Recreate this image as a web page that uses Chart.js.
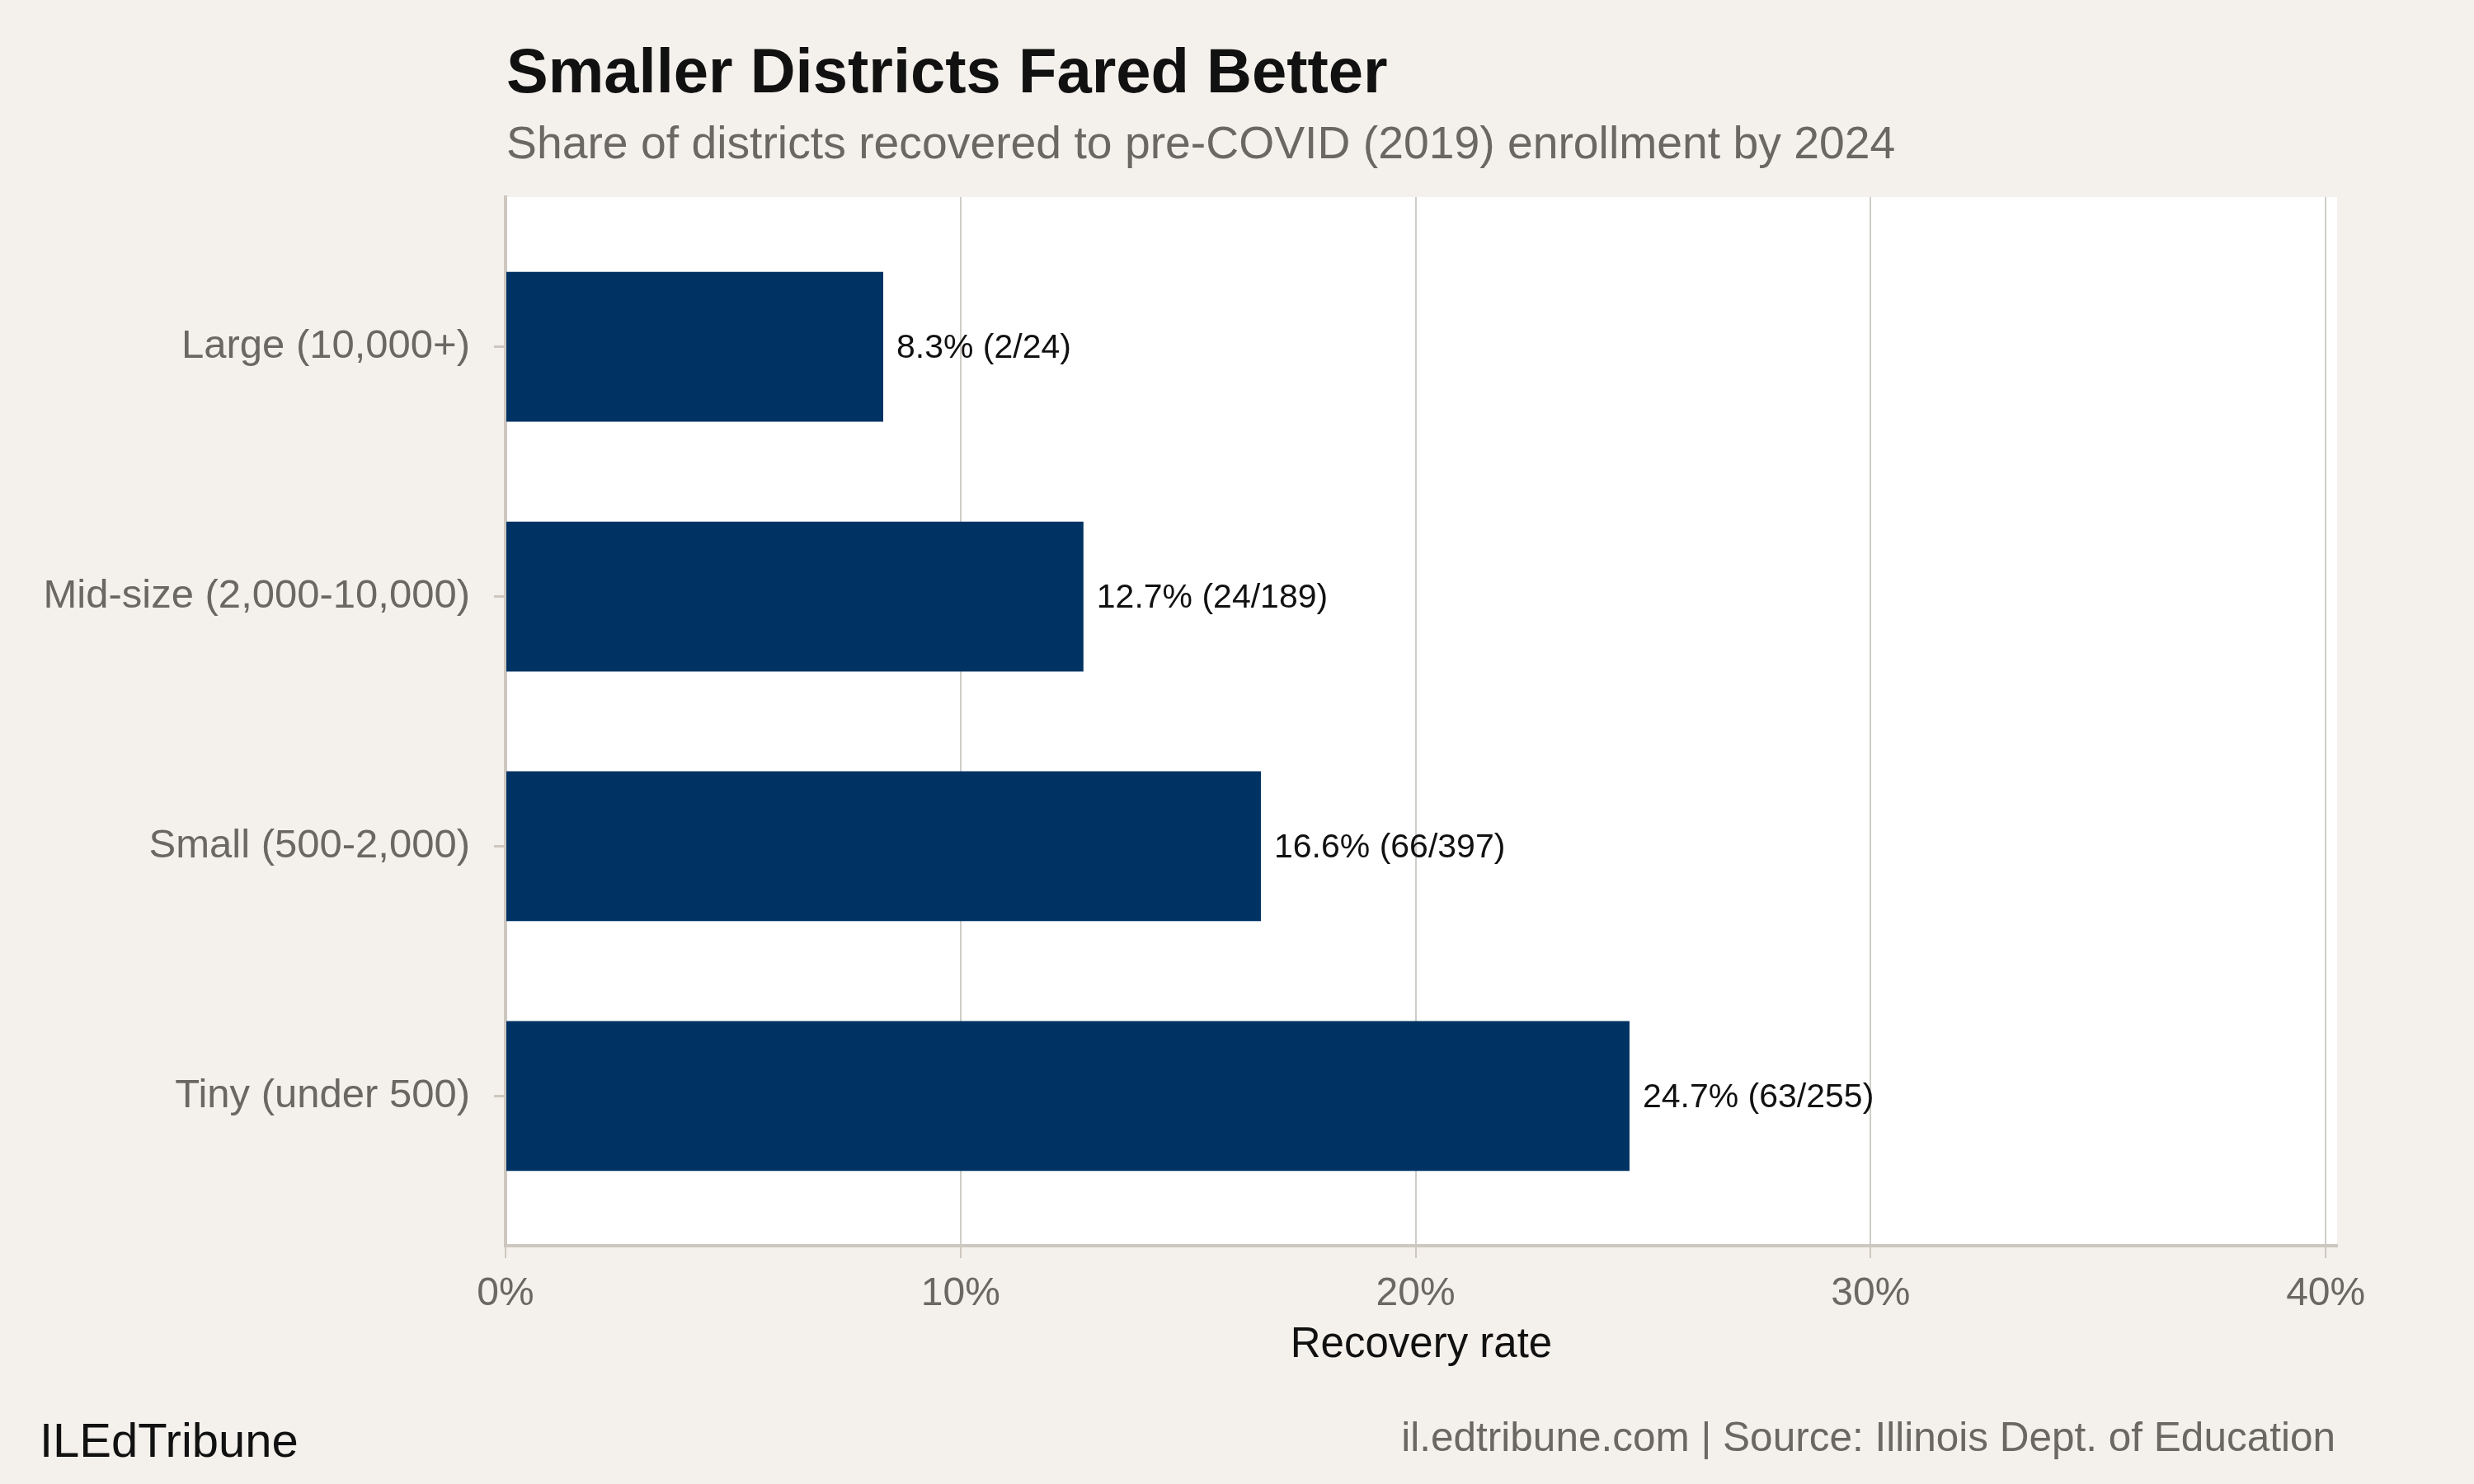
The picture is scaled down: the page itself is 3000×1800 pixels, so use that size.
<!DOCTYPE html>
<html>
<head>
<meta charset="utf-8">
<script src="https://cdn.jsdelivr.net/npm/chart.js@4.4.1/dist/chart.umd.min.js"></script>
<style>
  html, body { margin: 0; padding: 0; background: #f4f1ec; overflow: hidden; }
  #chart { display: block; }
</style>
</head>
<body>
<canvas id="chart" width="3000" height="1800"></canvas>
<script>
  // Chart data
  const categories = ["Large (10,000+)", "Mid-size (2,000-10,000)", "Small (500-2,000)", "Tiny (under 500)"];
  const recoveryRate = [8.3, 12.7, 16.6, 24.7];
  const recoveredCount = [2, 24, 66, 63];
  const districtCount = [24, 189, 397, 255];
  const xTickValues = [0, 10, 20, 30, 40];

  const FONT = "'Liberation Sans', Arial, Helvetica, sans-serif";
  const GRAY_TEXT = "#6b6762";
  const AXIS_LINE = "#cdc7bf";
  const GRID_LINE = "#d0ccc7";

  // Background: beige page, white panel
  const panelPlugin = {
    id: "panel",
    beforeDraw(chart) {
      const { ctx, chartArea } = chart;
      ctx.save();
      ctx.fillStyle = "#f4f1ec";
      ctx.fillRect(0, 0, chart.width, chart.height);
      ctx.fillStyle = "#ffffff";
      ctx.fillRect(chartArea.left, chartArea.top, chartArea.right - chartArea.left, chartArea.bottom - chartArea.top);
      ctx.restore();
    }
  };

  // Value labels at the end of each bar
  const valueLabelPlugin = {
    id: "valueLabels",
    afterDatasetsDraw(chart) {
      const { ctx } = chart;
      const meta = chart.getDatasetMeta(0);
      ctx.save();
      ctx.font = "41px " + FONT;
      ctx.fillStyle = "#111111";
      ctx.textAlign = "left";
      ctx.textBaseline = "middle";
      meta.data.forEach((bar, i) => {
        const text = recoveryRate[i].toFixed(1) + "% (" + recoveredCount[i] + "/" + districtCount[i] + ")";
        ctx.fillText(text, bar.x + 16, bar.y + 2);
      });
      ctx.restore();
    }
  };

  // Title, subtitle and footer texts
  const textPlugin = {
    id: "texts",
    afterDraw(chart) {
      const { ctx } = chart;
      ctx.save();
      ctx.textBaseline = "alphabetic";
      ctx.textAlign = "left";
      ctx.fillStyle = "#111111";
      ctx.font = "bold 76px " + FONT;
      ctx.fillText("Smaller Districts Fared Better", 614, 112);
      ctx.fillStyle = GRAY_TEXT;
      ctx.font = "55.3px " + FONT;
      ctx.fillText("Share of districts recovered to pre-COVID (2019) enrollment by 2024", 614, 192);
      ctx.fillStyle = "#111111";
      ctx.font = "58px " + FONT;
      ctx.fillText("ILEdTribune", 48, 1767);
      ctx.fillStyle = GRAY_TEXT;
      ctx.font = "49.5px " + FONT;
      ctx.textAlign = "right";
      ctx.fillText("il.edtribune.com | Source: Illinois Dept. of Education", 2832, 1760);
      ctx.restore();
    }
  };

  const ctx = document.getElementById("chart").getContext("2d");
  new Chart(ctx, {
    type: "bar",
    data: {
      datasets: [{
        label: "Recovery rate",
        data: recoveryRate.map((v, i) => ({ x: v, y: i })),
        backgroundColor: "#003263",
        borderWidth: 0,
        barPercentage: 0.6,
        categoryPercentage: 1.0
      }]
    },
    options: {
      indexAxis: "y",
      responsive: false,
      devicePixelRatio: 1,
      animation: false,
      layout: {
        padding: { top: 239, left: 0, right: 166, bottom: 137 }
      },
      plugins: {
        legend: { display: false },
        tooltip: { enabled: false },
        title: { display: false }
      },
      scales: {
        x: {
          type: "linear",
          min: 0,
          max: 40.25,
          afterBuildTicks: (scale) => { scale.ticks = xTickValues.map(v => ({ value: v })); },
          afterFit: (scale) => { scale.height = 152; },
          grid: {
            color: GRID_LINE,
            lineWidth: 2,
            tickLength: 15,
            tickColor: AXIS_LINE,
            tickWidth: 2
          },
          border: { display: true, color: AXIS_LINE, width: 4 },
          ticks: {
            padding: 15,
            color: GRAY_TEXT,
            font: { family: FONT, size: 48 },
            callback: (v) => v + "%"
          },
          title: {
            display: true,
            text: "Recovery rate",
            color: "#111111",
            font: { family: FONT, size: 51 },
            padding: { top: 0, bottom: 0 }
          }
        },
        y: {
          type: "linear",
          min: -0.6,
          max: 3.6,
          reverse: true,
          offset: false,
          afterBuildTicks: (scale) => { scale.ticks = categories.map((c, i) => ({ value: i })); },
          afterFit: (scale) => { scale.width = 613; },
          grid: {
            offset: false,
            drawOnChartArea: false,
            drawTicks: true,
            tickLength: 14,
            color: AXIS_LINE,
            tickColor: AXIS_LINE,
            tickWidth: 3
          },
          border: { display: true, color: AXIS_LINE, width: 4 },
          ticks: {
            padding: 29,
            color: GRAY_TEXT,
            font: { family: FONT, size: 49 },
            callback: (v) => categories[v]
          }
        }
      }
    },
    plugins: [panelPlugin, valueLabelPlugin, textPlugin]
  });
</script>
</body>
</html>
